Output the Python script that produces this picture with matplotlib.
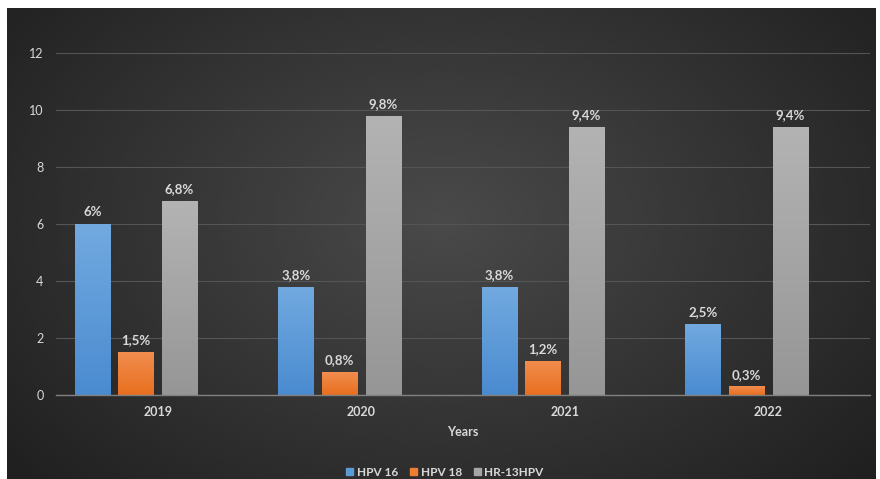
import numpy as np
import matplotlib
matplotlib.use("Agg")
import matplotlib.pyplot as plt
from matplotlib.colors import LinearSegmentedColormap

years = ["2019", "2020", "2021", "2022"]
series_names = ["HPV 16", "HPV 18", "HR-13HPV"]
hpv16 = [6.0, 3.8, 3.8, 2.5]
hpv18 = [1.5, 0.8, 1.2, 0.3]
hr13 = [6.8, 9.8, 9.4, 9.4]
labels16 = ["6%", "3,8%", "3,8%", "2,5%"]
labels18 = ["1,5%", "0,8%", "1,2%", "0,3%"]
labels13 = ["6,8%", "9,8%", "9,4%", "9,4%"]
yticks = [0, 2, 4, 6, 8, 10, 12]

colors_top = ["#72aae0", "#f18d4e", "#b3b3b3"]
colors_bot = ["#4a8bd0", "#e86f1f", "#969696"]
legend_colors = ["#5b9bd5", "#ed7d31", "#a5a5a5"]

plt.rcParams['font.family'] = ['Lato', 'DejaVu Sans']

W, H = 880, 479
fig = plt.figure(figsize=(W / 100, H / 100), dpi=100)
fig.patch.set_facecolor("white")

# background panel with radial gradient
bx0, bx1 = 7, 875
by0, by1 = 8, 479
bg = fig.add_axes([bx0 / W, 0, (bx1 - bx0) / W, (by1 - by0) / H])
bg.set_axis_off()
yy, xx = np.mgrid[0:1:300j, 0:1:500j]
r = np.sqrt(((xx - 0.5) / 0.6) ** 2 + ((yy - 0.45) / 0.75) ** 2)
val = 0.29 - 0.15 * np.clip(r, 0, 1.2)
bg.imshow(val, cmap="gray", vmin=0, vmax=1, aspect="auto",
          extent=[0, 1, 0, 1], interpolation="bicubic")
bg.set_xlim(0, 1)
bg.set_ylim(0, 1)

ax = fig.add_axes([56 / W, (H - 395) / H, (870 - 56) / W, 342 / H])
ax.set_facecolor("none")

x = np.arange(len(years))
bw = 0.172
slot = 0.2138
offs = [-1.5 * slot, -0.5 * slot, 0.5 * slot]
data = [hpv16, hpv18, hr13]
lbls = [labels16, labels18, labels13]

for i, (vals, lab) in enumerate(zip(data, lbls)):
    bars = ax.bar(x + offs[i], vals, width=bw, color=legend_colors[i],
                  zorder=3, label=series_names[i], edgecolor="none")
    cmap = LinearSegmentedColormap.from_list("g%d" % i, [colors_bot[i], colors_top[i]])
    for b, v, t in zip(bars, vals, lab):
        x0 = b.get_x()
        grad = np.linspace(0, 1, 100).reshape(-1, 1)
        im = ax.imshow(grad, cmap=cmap, aspect="auto", origin="lower",
                       extent=[x0, x0 + bw, 0, v], zorder=3.5)
        im.set_clip_path(b)
        ax.text(b.get_x() + bw / 2, v + 0.2, t, ha="center", va="bottom",
                color="#d9d9d9", fontsize=9.5, fontweight="bold", zorder=5)

ax.set_xlim(-0.5, 3.5)
ax.set_ylim(0, 12)
ax.set_yticks(yticks)
ax.set_yticklabels([str(v) for v in yticks], color="#d9d9d9", fontsize=9)
ax.set_xticks(x)
ax.set_xticklabels(years, color="#d9d9d9", fontsize=9, fontweight="bold")
ax.tick_params(axis="both", length=0)
ax.tick_params(axis="y", pad=9)
ax.tick_params(axis="x", pad=8)
ax.grid(axis="y", color="#555555", linewidth=0.8, zorder=0)
ax.set_axisbelow(True)
for s in ["top", "right", "left"]:
    ax.spines[s].set_visible(False)
ax.spines["bottom"].set_color("#808080")
ax.spines["bottom"].set_linewidth(1.0)
ax.spines["bottom"].set_zorder(6)

ax.set_xlabel("Years", color="#d9d9d9", fontsize=9, fontweight="bold", labelpad=6)

handles = [plt.Rectangle((0, 0), 1, 1, color=c) for c in legend_colors]
leg = fig.legend(handles, series_names, loc="center", bbox_to_anchor=(445 / W, 1 - 472 / H),
                 ncol=3, frameon=False, handlelength=0.6, handleheight=0.6,
                 handletextpad=0.3, columnspacing=1.0, prop={"size": 8.5, "weight": "bold"})
for t in leg.get_texts():
    t.set_color("#d9d9d9")

fig.savefig("out.png", dpi=100, facecolor=fig.get_facecolor())
